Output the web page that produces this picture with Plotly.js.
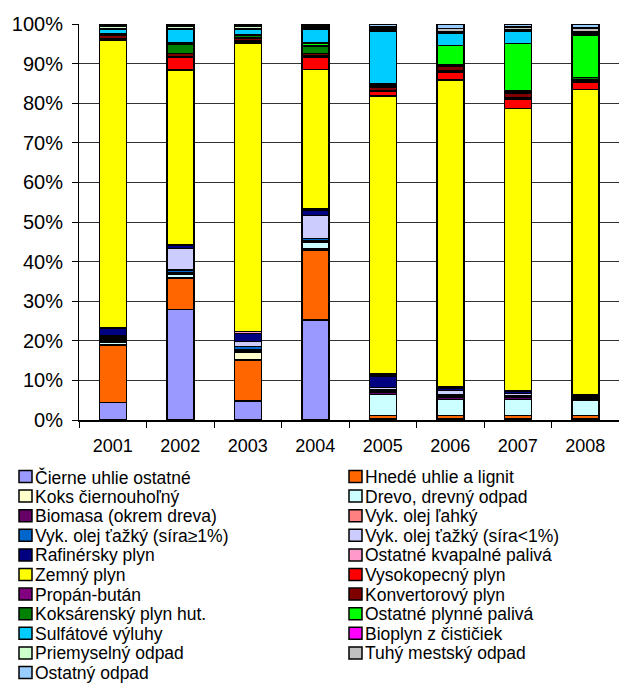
<!DOCTYPE html>
<html>
<head>
<meta charset="utf-8">
<script src="https://cdn.plot.ly/plotly-3.0.1.min.js"></script>
<style>html,body{margin:0;padding:0;background:#fff;}#chart{width:619px;height:684px;}</style>
</head>
<body>
<div id="chart"></div>
<script>
const years = ['2001','2002','2003','2004','2005','2006','2007','2008'];
const yTickVals = [0,10,20,30,40,50,60,70,80,90,100];
const yTickText = ['0%','10%','20%','30%','40%','50%','60%','70%','80%','90%','100%'];

// Shares (%) of each fuel per year, bottom to top of stack
const cierneUhlie   = [4.4, 27.9, 4.8, 25.2, 0.2, 0.2, 0.2, 0.2];
const hnedeUhlie    = [14.4, 7.8, 10.4, 17.7, 0.9, 0.9, 0.9, 0.9];
const koks          = [0.3, 0.3, 1.9, 0.3, 0.1, 0.1, 0.1, 0.1];
const drevo         = [0.6, 0.9, 0.3, 1.6, 5.3, 4.0, 4.0, 3.8];
const biomasa       = [0.2, 0.2, 0.2, 0.2, 0.5, 0.6, 0.5, 0.3];
const olejLahky     = [0.3, 0.2, 0.2, 0.3, 0.3, 0.3, 0.2, 0.2];
const olejTazkyVys  = [0.5, 0.6, 0.8, 0.5, 0.3, 0.4, 0.3, 0.2];
const olejTazkyNiz  = [0.5, 5.4, 1.2, 5.8, 0.6, 0.9, 0.5, 0.2];
const rafinersky    = [1.9, 0.8, 2.0, 1.4, 2.9, 0.7, 0.5, 0.3];
const ostKvapalne   = [0.3, 0.2, 0.6, 0.3, 0.5, 0.3, 0.3, 0.2];
const zemnyPlyn     = [72.6, 44.1, 72.7, 35.2, 70.2, 77.4, 71.2, 77.1];
const vysokopecny   = [0.3, 3.3, 0.4, 3.2, 1.1, 2.1, 2.4, 1.8];
const propanButan   = [0.1, 0.1, 0.2, 0.2, 0.3, 0.3, 0.3, 0.3];
const konvertorovy  = [0.8, 0.7, 0.8, 0.7, 0.9, 1.2, 1.2, 0.4];
const koksarensky   = [0.3, 2.5, 0.6, 1.8, 0.3, 0.4, 0.5, 0.5];
const ostPlynne     = [0.0, 0.3, 0.2, 0.8, 0.4, 4.8, 12.0, 10.6];
const sulfatove     = [1.3, 3.5, 1.5, 3.5, 13.4, 3.0, 3.1, 0.4];
const bioplyn       = [0.1, 0.1, 0.1, 0.1, 0.1, 0.2, 0.1, 0.2];
const priemyselny   = [0.5, 0.5, 0.5, 0.5, 0.4, 0.3, 0.2, 0.4];
const tuhyOdpad     = [0.3, 0.3, 0.3, 0.4, 0.5, 0.8, 0.8, 0.9];
const ostatnyOdpad  = [0.3, 0.3, 0.3, 0.3, 0.8, 1.1, 0.7, 1.0];

const seriesNames = [
  'Čierne uhlie ostatné','Hnedé uhlie a lignit','Koks čiernouhoľný','Drevo, drevný odpad',
  'Biomasa (okrem dreva)','Vyk. olej ľahký','Vyk. olej ťažký (síra≥1%)','Vyk. olej ťažký (síra<1%)',
  'Rafinérsky plyn','Ostatné kvapalné palivá','Zemný plyn','Vysokopecný plyn',
  'Propán-bután','Konvertorový plyn','Koksárenský plyn hut.','Ostatné plynné palivá',
  'Sulfátové výluhy','Bioplyn z čističiek','Priemyselný odpad','Tuhý mestský odpad','Ostatný odpad'
];
const seriesValues = [
  cierneUhlie, hnedeUhlie, koks, drevo, biomasa, olejLahky, olejTazkyVys, olejTazkyNiz,
  rafinersky, ostKvapalne, zemnyPlyn, vysokopecny, propanButan, konvertorovy, koksarensky,
  ostPlynne, sulfatove, bioplyn, priemyselny, tuhyOdpad, ostatnyOdpad
];
const seriesColors = [
  '#9999FF','#FF6600','#FFFFCC','#CCFFFF','#660066','#FF8080','#0066CC','#CCCCFF',
  '#000080','#FF99CC','#FFFF00','#FF0000','#800080','#800000','#008000','#00FF00',
  '#00CCFF','#FF00FF','#CCFFCC','#C0C0C0','#99CCFF'
];

const FONT = "'Liberation Sans', Arial, sans-serif";

const traces = seriesNames.map((name, i) => ({
  type: 'bar',
  name: name,
  x: years,
  y: seriesValues[i],
  marker: {color: seriesColors[i], line: {color: '#000', width: 1.5}},
  showlegend: false,
  hoverinfo: 'name+y'
}));

// Legend built as text annotations + colour squares (two columns, row-wise)
const ML = 79, PW = 540, PT = 24, PH = 396;
const px2x = p => (p - ML) / PW;
const py2y = p => (PT + PH - p) / PH;
const annotations = [];
const shapes = [];
seriesNames.forEach((name, i) => {
  const col = i % 2, row = Math.floor(i / 2);
  const sqLeft = col === 0 ? 19 : 349;
  const cy = 476.5 + row * 19.6;
  shapes.push({
    type: 'rect', xref: 'paper', yref: 'paper',
    x0: px2x(sqLeft), x1: px2x(sqLeft + 13),
    y0: py2y(cy + 6), y1: py2y(cy - 6),
    fillcolor: seriesColors[i], line: {color: '#000', width: 1.5}
  });
  annotations.push({
    xref: 'paper', yref: 'paper', x: px2x(sqLeft + 15), y: py2y(cy + 0.5),
    xanchor: 'left', yanchor: 'middle', showarrow: false, borderpad: 0,
    text: name, font: {family: FONT, size: 17.5, color: '#000'}
  });
});

const layout = {
  width: 619, height: 684,
  margin: {l: ML, r: 0, t: PT, b: 684 - PT - PH, pad: 0},
  barmode: 'stack',
  bargap: 0.6,
  paper_bgcolor: '#fff', plot_bgcolor: '#fff',
  showlegend: false,
  font: {family: FONT, size: 18, color: '#000'},
  xaxis: {
    type: 'category', tickson: 'boundaries', ticks: 'outside', ticklen: 6, tickcolor: '#000',
    showline: true, linecolor: '#000', linewidth: 1.5, showgrid: false,
    ticklabelstandoff: 9,
    tickfont: {family: FONT, size: 18, color: '#000'}
  },
  yaxis: {
    range: [0, 100], tickvals: yTickVals, ticktext: yTickText,
    ticks: 'outside', ticklen: 6, tickcolor: '#000',
    showline: true, linecolor: '#000', linewidth: 1,
    showgrid: true, gridcolor: '#333', gridwidth: 1, zeroline: false,
    ticklabelstandoff: 5,
    tickfont: {family: FONT, size: 20, color: '#000'}
  },
  shapes: shapes,
  annotations: annotations
};

Plotly.newPlot('chart', traces, layout, {displayModeBar: false, staticPlot: true});
</script>
</body>
</html>
